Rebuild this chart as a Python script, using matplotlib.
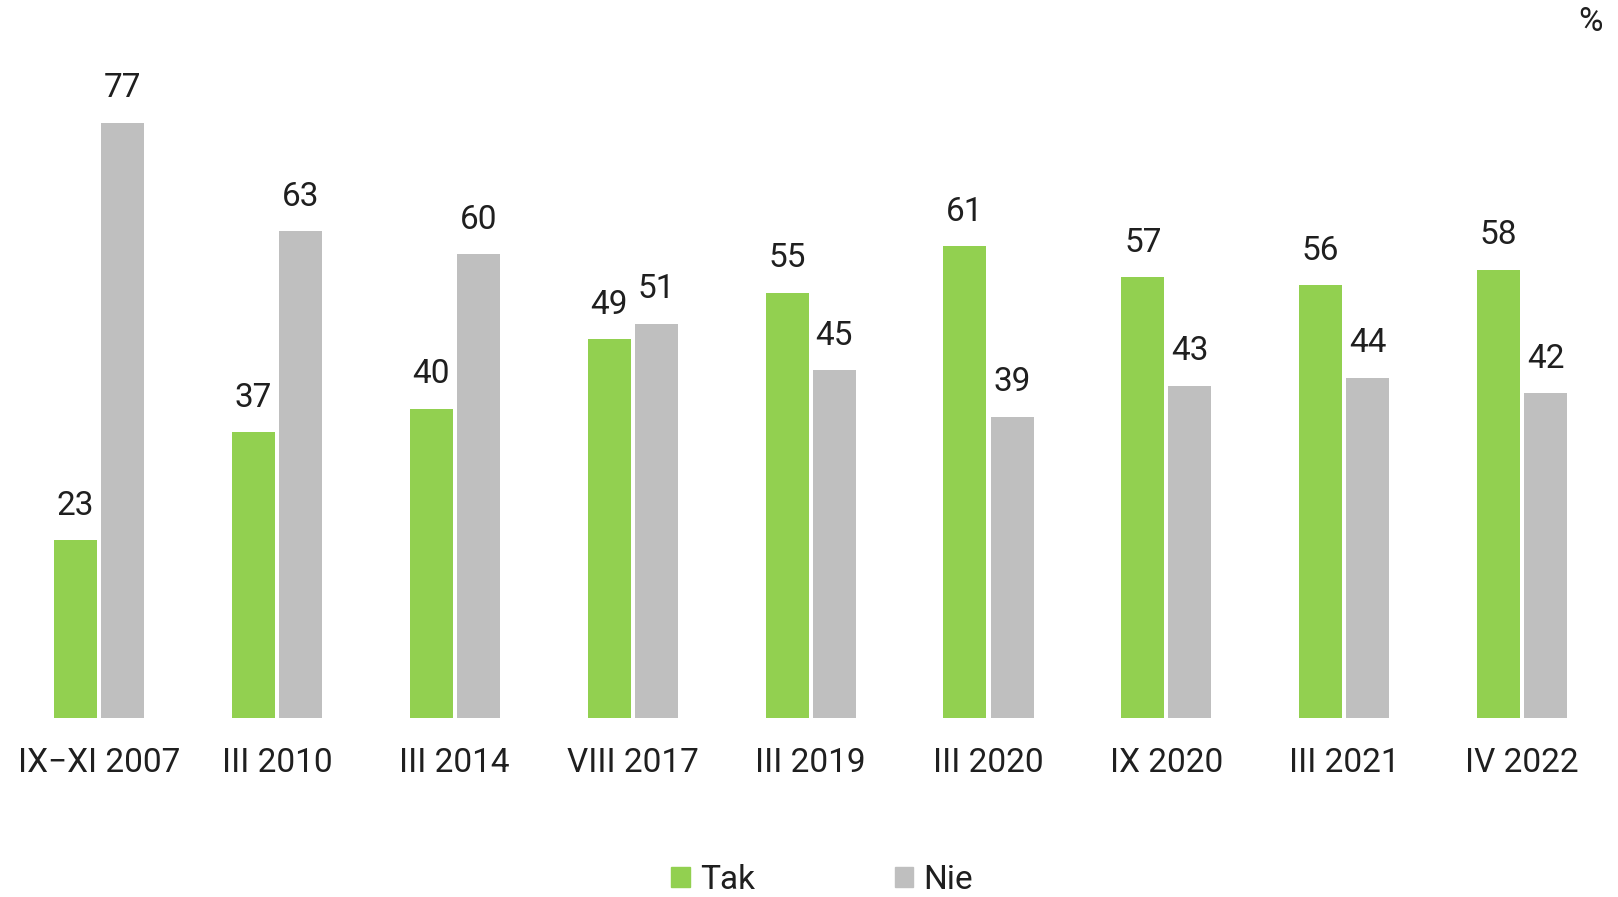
import numpy as np
import matplotlib
matplotlib.use('Agg')
import matplotlib.pyplot as plt
from matplotlib.patches import Patch

# dane z wykresu (%)
categories = ['IX\u2212XI 2007', 'III 2010', 'III 2014', 'VIII 2017', 'III 2019',
              'III 2020', 'IX 2020', 'III 2021', 'IV 2022']
tak = [23, 37, 40, 49, 55, 61, 57, 56, 58]
nie = [77, 63, 60, 51, 45, 39, 43, 44, 42]

GREEN = '#92d050'
GRAY = '#bfbfbf'
TEXT = '#1f1f1f'

plt.rcParams['font.family'] = ['Roboto', 'DejaVu Sans']

W, H = 1618, 897
fig = plt.figure(figsize=(W / 100, H / 100), dpi=100)
ax = fig.add_axes([0, 0, 1, 1])

# skala: piksele -> dane
x0, dx = 99, 177.9      # środek pierwszej grupy, odstęp grup
y0, dy = 718, 7.73      # linia zera, piksele na 1 pp
ax.set_xlim(-x0 / dx, (W - x0) / dx)
ax.set_ylim(-(H - y0) / dy, y0 / dy)
ax.axis('off')

x = np.arange(len(categories))
w = 0.242
off = w / 2 + 0.0115
ax.bar(x - off, tak, w, color=GREEN, label='Tak')
ax.bar(x + off, nie, w, color=GRAY, label='Nie')

fs = 24
for xi, v in zip(x - off, tak):
    ax.text(xi, v + 4.45, str(v), ha='center', va='center', fontsize=fs, color=TEXT)
for xi, v in zip(x + off, nie):
    ax.text(xi, v + 4.45, str(v), ha='center', va='center', fontsize=fs, color=TEXT)

for xi, c in zip(x, categories):
    ax.text(xi, -(763 - y0) / dy, c, ha='center', va='center', fontsize=fs, color=TEXT)

fig.text(1591 / W, 1 - 22 / H, '%', ha='center', va='center', fontsize=fs, color=TEXT)

handles = [Patch(color=GREEN, label='Tak'), Patch(color=GRAY, label='Nie')]
fig.legend(handles=handles, loc='center', bbox_to_anchor=(822 / W, 1 - 880 / H),
           ncol=2, frameon=False, fontsize=fs, handlelength=0.55, handleheight=0.55,
           handletextpad=0.3, columnspacing=4.2, labelcolor=TEXT,
           borderpad=0, borderaxespad=0)

fig.savefig('out.png', dpi=100)
